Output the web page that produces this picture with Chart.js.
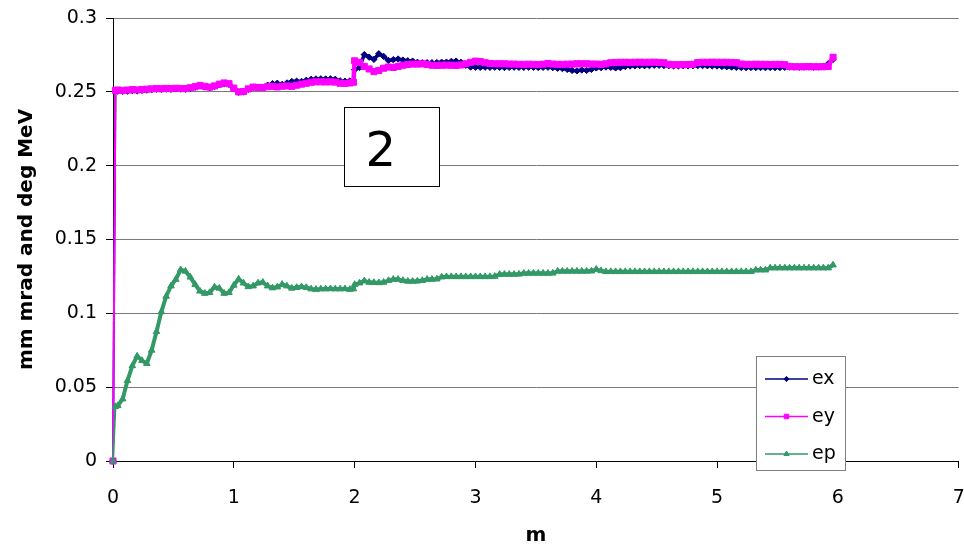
<!DOCTYPE html>
<html><head><meta charset="utf-8">
<script src="https://cdn.jsdelivr.net/npm/chart.js@4"></script>
<style>html,body{margin:0;padding:0;background:#fff;}#wrap{position:relative;width:964px;height:545px;}</style>
</head><body><div id="wrap"><canvas id="c" width="964" height="545"></canvas></div>
<script>
const xs = [
 0, 0.02, 0.04, 0.08, 0.12, 0.16, 0.20, 0.24, 0.28, 0.32,
 0.36, 0.40, 0.44, 0.48, 0.52, 0.56, 0.60, 0.64, 0.68, 0.72,
 0.76, 0.80, 0.84, 0.88, 0.92, 0.96, 1.00, 1.04, 1.08, 1.12,
 1.16, 1.20, 1.24, 1.28, 1.32, 1.36, 1.40, 1.44, 1.48, 1.52,
 1.56, 1.60, 1.64, 1.68, 1.72, 1.76, 1.80, 1.84, 1.88, 1.92,
 1.96, 1.99, 2.00, 2.04, 2.08, 2.12, 2.16, 2.20, 2.24, 2.28,
 2.32, 2.36, 2.40, 2.44, 2.48, 2.52, 2.56, 2.60, 2.64, 2.68,
 2.72, 2.76, 2.80, 2.84, 2.88, 2.92, 2.96, 3.00, 3.04, 3.08,
 3.12, 3.16, 3.20, 3.24, 3.28, 3.32, 3.36, 3.40, 3.44, 3.48,
 3.52, 3.56, 3.60, 3.64, 3.68, 3.72, 3.76, 3.80, 3.84, 3.88,
 3.92, 3.96, 4.00, 4.04, 4.08, 4.12, 4.16, 4.20, 4.24, 4.28,
 4.32, 4.36, 4.40, 4.44, 4.48, 4.52, 4.56, 4.60, 4.64, 4.68,
 4.72, 4.76, 4.80, 4.84, 4.88, 4.92, 4.96, 5.00, 5.04, 5.08,
 5.12, 5.16, 5.20, 5.24, 5.28, 5.32, 5.36, 5.40, 5.44, 5.48,
 5.52, 5.56, 5.60, 5.64, 5.68, 5.72, 5.76, 5.80, 5.84, 5.88,
 5.92, 5.96
];
const exVals = [
 0, 0.2505, 0.2505, 0.2504, 0.2505, 0.2508, 0.2507, 0.2510, 0.2512, 0.2515,
 0.2518, 0.2517, 0.2519, 0.2518, 0.2520, 0.2519, 0.2518, 0.2524, 0.2531, 0.2539,
 0.2533, 0.2528, 0.2536, 0.2548, 0.2556, 0.2551, 0.2521, 0.2497, 0.2499, 0.2517,
 0.2530, 0.2530, 0.2530, 0.2545, 0.2555, 0.2558, 0.2550, 0.2560, 0.2570, 0.2572,
 0.2570, 0.2578, 0.2585, 0.2587, 0.2588, 0.2587, 0.2588, 0.2585, 0.2574, 0.2572,
 0.2573, 0.2576, 0.2650, 0.2665, 0.2752, 0.2735, 0.2720, 0.2758, 0.2740, 0.2712,
 0.2718, 0.2722, 0.2715, 0.2710, 0.2708, 0.2700, 0.2697, 0.2697, 0.2697, 0.2698,
 0.2700, 0.2701, 0.2706, 0.2708, 0.2700, 0.2680, 0.2668, 0.2667, 0.2666, 0.2667,
 0.2666, 0.2667, 0.2666, 0.2665, 0.2666, 0.2667, 0.2666, 0.2666, 0.2667, 0.2666,
 0.2665, 0.2666, 0.2667, 0.2664, 0.2660, 0.2658, 0.2652, 0.2645, 0.2642, 0.2648,
 0.2645, 0.2652, 0.2662, 0.2664, 0.2668, 0.2666, 0.2662, 0.2664, 0.2672, 0.2675,
 0.2676, 0.2678, 0.2677, 0.2678, 0.2680, 0.2680, 0.2678, 0.2677, 0.2676, 0.2676,
 0.2677, 0.2676, 0.2677, 0.2678, 0.2678, 0.2677, 0.2676, 0.2675, 0.2672, 0.2670,
 0.2668, 0.2666, 0.2665, 0.2664, 0.2665, 0.2664, 0.2665, 0.2664, 0.2665, 0.2664,
 0.2665, 0.2666, 0.2668, 0.2668, 0.2667, 0.2668, 0.2668, 0.2667, 0.2668, 0.2672,
 0.2690, 0.2720
];
const eyVals = [
 0, 0.2510, 0.2512, 0.2510, 0.2512, 0.2515, 0.2513, 0.2516, 0.2518, 0.2520,
 0.2522, 0.2521, 0.2523, 0.2522, 0.2524, 0.2523, 0.2522, 0.2528, 0.2535, 0.2543,
 0.2537, 0.2532, 0.2540, 0.2552, 0.2560, 0.2555, 0.2525, 0.2500, 0.2502, 0.2520,
 0.2532, 0.2530, 0.2528, 0.2535, 0.2537, 0.2533, 0.2538, 0.2540, 0.2537, 0.2545,
 0.2552, 0.2558, 0.2565, 0.2568, 0.2568, 0.2567, 0.2568, 0.2566, 0.2558, 0.2557,
 0.2560, 0.2565, 0.2710, 0.2700, 0.2672, 0.2655, 0.2637, 0.2645, 0.2660, 0.2668,
 0.2665, 0.2672, 0.2680, 0.2685, 0.2688, 0.2688, 0.2690, 0.2685, 0.2680, 0.2679,
 0.2680, 0.2681, 0.2680, 0.2679, 0.2682, 0.2690, 0.2700, 0.2708, 0.2705, 0.2697,
 0.2692, 0.2690, 0.2690, 0.2690, 0.2688, 0.2688, 0.2686, 0.2686, 0.2687, 0.2686,
 0.2685, 0.2687, 0.2692, 0.2688, 0.2686, 0.2686, 0.2687, 0.2688, 0.2690, 0.2690,
 0.2690, 0.2688, 0.2688, 0.2686, 0.2690, 0.2697, 0.2699, 0.2700, 0.2700, 0.2699,
 0.2700, 0.2701, 0.2700, 0.2700, 0.2701, 0.2699, 0.2697, 0.2686, 0.2684, 0.2684,
 0.2684, 0.2685, 0.2686, 0.2698, 0.2700, 0.2700, 0.2701, 0.2700, 0.2700, 0.2700,
 0.2699, 0.2697, 0.2688, 0.2686, 0.2686, 0.2687, 0.2686, 0.2686, 0.2685, 0.2686,
 0.2686, 0.2684, 0.2672, 0.2670, 0.2670, 0.2670, 0.2671, 0.2670, 0.2670, 0.2670,
 0.2672, 0.2734
];
const epVals = [
 0, 0.0368, 0.0375, 0.0420, 0.0545, 0.0645, 0.0710, 0.0680, 0.0660, 0.0750,
 0.0876, 0.1010, 0.1115, 0.1185, 0.1230, 0.1295, 0.1285, 0.1245, 0.1195, 0.1150,
 0.1135, 0.1140, 0.1178, 0.1170, 0.1135, 0.1140, 0.1190, 0.1232, 0.1205, 0.1180,
 0.1185, 0.1205, 0.1210, 0.1185, 0.1172, 0.1178, 0.1196, 0.1185, 0.1170, 0.1175,
 0.1180, 0.1175, 0.1165, 0.1162, 0.1165, 0.1165, 0.1166, 0.1165, 0.1165, 0.1166,
 0.1162, 0.1165, 0.1195, 0.1205, 0.1220, 0.1210, 0.1208, 0.1207, 0.1210, 0.1222,
 0.1230, 0.1230, 0.1222, 0.1217, 0.1217, 0.1218, 0.1222, 0.1230, 0.1230, 0.1232,
 0.1246, 0.1248, 0.1248, 0.1248, 0.1248, 0.1248, 0.1248, 0.1248, 0.1248, 0.1248,
 0.1248, 0.1250, 0.1264, 0.1264, 0.1264, 0.1264, 0.1265, 0.1271, 0.1271, 0.1271,
 0.1271, 0.1271, 0.1271, 0.1272, 0.1285, 0.1285, 0.1285, 0.1285, 0.1285, 0.1285,
 0.1285, 0.1286, 0.1298, 0.1288, 0.1282, 0.1282, 0.1282, 0.1282, 0.1282, 0.1282,
 0.1282, 0.1282, 0.1282, 0.1282, 0.1282, 0.1282, 0.1282, 0.1282, 0.1282, 0.1282,
 0.1282, 0.1282, 0.1282, 0.1282, 0.1282, 0.1282, 0.1282, 0.1282, 0.1282, 0.1282,
 0.1282, 0.1282, 0.1282, 0.1282, 0.1282, 0.1293, 0.1293, 0.1293, 0.1307, 0.1307,
 0.1307, 0.1307, 0.1307, 0.1307, 0.1307, 0.1307, 0.1307, 0.1307, 0.1307, 0.1307,
 0.1307, 0.1327
];
const seriesNames = ['ex', 'ey', 'ep'];
const xTickLabels = ['0', '1', '2', '3', '4', '5', '6', '7'];
const yTickLabels = ['0', '0.05', '0.1', '0.15', '0.2', '0.25', '0.3'];
const xTitle = 'm';
const yTitle = 'mm mrad and deg MeV';
const boxLabel = '2';

const FONT = "'DejaVu Sans', 'Liberation Sans', Arial, sans-serif";
const colors = ['#000080', '#FF00FF', '#339966'];
const styles = ['rectRot', 'rect', 'triangle'];
const radii = [3.2, 4.3, 3.8];
const lineWidths = [3.5, 4.5, 4];
const legendRadii = [2.6, 3.2, 3.0];

function pts(vals) { return xs.map((x, i) => ({ x: x, y: vals[i] })); }
const valsList = [exVals, eyVals, epVals];

const datasets = seriesNames.map((n, i) => ({
  label: n,
  data: pts(valsList[i]),
  borderColor: colors[i],
  backgroundColor: colors[i],
  borderWidth: lineWidths[i],
  borderJoinStyle: 'round',
  pointStyle: styles[i],
  pointRadius: radii[i],
  pointBorderWidth: 1,
  pointBorderColor: colors[i],
  pointBackgroundColor: colors[i],
  fill: false,
  tension: 0,
  clip: false,
  order: 3 - i,
  segment: {
    borderWidth: ctx => (ctx.p0DataIndex === 0 ? 2 : lineWidths[i])
  }
}));

const bgPlugin = {
  id: 'bg',
  beforeDraw(chart) {
    const c = chart.ctx; c.save(); c.fillStyle = '#fff';
    c.fillRect(0, 0, chart.width, chart.height); c.restore();
  }
};

const boxPlugin = {
  id: 'box',
  afterDatasetsDraw(chart) {
    const c = chart.ctx, sx = chart.scales.x, sy = chart.scales.y;
    const l = Math.round(sx.getPixelForValue(1.91)) + 0.5;
    const r = Math.round(sx.getPixelForValue(2.70)) + 0.5;
    const t = Math.round(sy.getPixelForValue(0.2397)) + 0.5;
    const b = Math.round(sy.getPixelForValue(0.1862)) + 0.5;
    c.save();
    c.fillStyle = '#fff'; c.fillRect(l, t, r - l, b - t);
    c.strokeStyle = '#000'; c.lineWidth = 1; c.strokeRect(l, t, r - l, b - t);
    c.fillStyle = '#000'; c.font = "48px " + FONT;
    c.textAlign = 'left'; c.textBaseline = 'alphabetic';
    c.fillText(boxLabel, l + 21, b - 21);
    c.restore();
  }
};

const legendPlugin = {
  id: 'customLegend',
  afterDraw(chart) {
    const c = chart.ctx;
    const L = 756.5, T = 356.5, R = 845.5, B = 470.5;
    c.save();
    c.fillStyle = '#fff'; c.fillRect(L, T, R - L, B - T);
    c.strokeStyle = '#808080'; c.lineWidth = 1; c.strokeRect(L, T, R - L, B - T);
    const rows = [379, 416.5, 454];
    seriesNames.forEach((n, i) => {
      const y = rows[i];
      c.strokeStyle = colors[i]; c.lineWidth = 1.5;
      c.beginPath(); c.moveTo(765, y); c.lineTo(808, y); c.stroke();
      c.fillStyle = colors[i]; c.strokeStyle = colors[i]; c.lineWidth = 1;
      Chart.helpers.drawPoint(c, { pointStyle: styles[i], radius: legendRadii[i], rotation: 0, borderWidth: 1 }, 786.5, y);
      c.fillStyle = '#000'; c.font = "19px " + FONT;
      c.textAlign = 'left'; c.textBaseline = 'alphabetic';
      c.fillText(n, 812, y + 5);
    });
    c.restore();
  }
};

new Chart(document.getElementById('c'), {
  type: 'line',
  data: { datasets: datasets },
  plugins: [bgPlugin, boxPlugin, legendPlugin],
  options: {
    responsive: false,
    devicePixelRatio: 1,
    animation: false,
    layout: { padding: { left: 0, right: 2, top: 18, bottom: 0 } },
    plugins: { legend: { display: false }, tooltip: { enabled: false } },
    scales: {
      x: {
        type: 'linear', min: 0, max: 7,
        ticks: { stepSize: 1, color: '#000', font: { family: FONT, size: 19 }, padding: 19, maxRotation: 0,
          callback: (v, i) => xTickLabels[i] },
        grid: { drawOnChartArea: false, drawTicks: true, tickLength: 7, tickColor: '#000' },
        border: { display: true, color: '#000', width: 1 },
        title: { display: true, text: xTitle, color: '#000', font: { family: FONT, size: 20, weight: 'bold', lineHeight: 1 }, padding: { top: 0, bottom: -1 } },
        afterFit(s) { s.height = 84; s.paddingLeft = 0; s.paddingRight = 0; }
      },
      y: {
        type: 'linear', min: 0, max: 0.3,
        ticks: { stepSize: 0.05, color: '#000', font: { family: FONT, size: 19 }, padding: 9,
          callback: (v, i) => yTickLabels[i] },
        grid: { color: '#7a7a7a', lineWidth: 1, drawTicks: true, tickLength: 7, tickColor: '#000' },
        border: { display: true, color: '#000', width: 1 },
        title: { display: true, text: yTitle, color: '#000', font: { family: FONT, size: 20, weight: 'bold', lineHeight: 1 }, padding: { top: 17, bottom: 0 } },
        afterFit(s) { s.width = 113; s.paddingTop = 0; s.paddingBottom = 0; }
      }
    }
  }
});
</script></body></html>
